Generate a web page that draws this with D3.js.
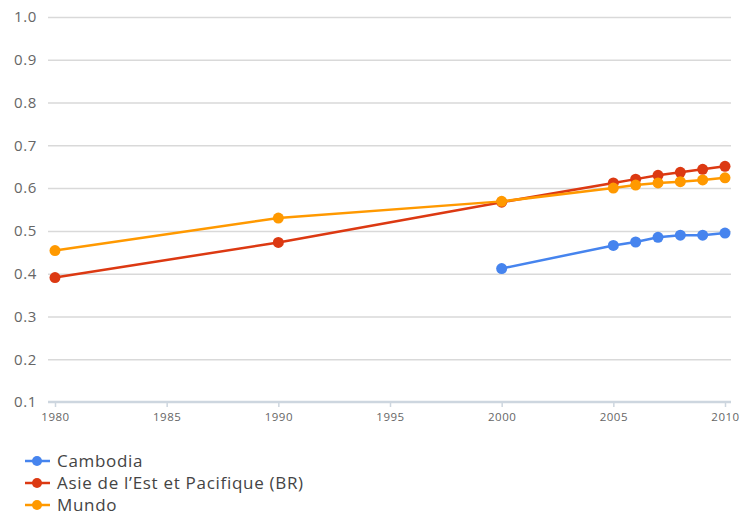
<!DOCTYPE html>
<html><head><meta charset="utf-8">
<script src="https://cdn.jsdelivr.net/npm/d3@7"></script>
<style>body{margin:0;background:#fff;}svg{display:block;font-family:"Open Sans",sans-serif;}</style>
</head><body><svg id="c" width="741" height="517"></svg>
<script>
const seriesNames = ["Cambodia", "Asie de l\u2019Est et Pacifique (BR)", "Mundo"];
const seriesColors = ["#4684ee", "#dc3912", "#ff9900"];
const cambodiaYears = [2000, 2005, 2006, 2007, 2008, 2009, 2010];
const cambodiaValues = [0.412, 0.466, 0.474, 0.485, 0.490, 0.490, 0.495];
const eastAsiaYears = [1980, 1990, 2000, 2005, 2006, 2007, 2008, 2009, 2010];
const eastAsiaValues = [0.391, 0.473, 0.567, 0.612, 0.621, 0.630, 0.637, 0.644, 0.651];
const worldYears = [1980, 1990, 2000, 2005, 2006, 2007, 2008, 2009, 2010];
const worldValues = [0.454, 0.530, 0.569, 0.600, 0.607, 0.612, 0.615, 0.619, 0.624];
const xTicks = [1980, 1985, 1990, 1995, 2000, 2005, 2010];
const yTicks = [0.1, 0.2, 0.3, 0.4, 0.5, 0.6, 0.7, 0.8, 0.9, 1.0];

const svg = d3.select("#c");
const x = d3.scaleLinear().domain([1980, 2010]).range([55, 725]);
const y = d3.scaleLinear().domain([0.1, 1.0]).range([402, 17]);

// grid
const gy = svg.append("g").attr("transform", "translate(48,0)")
  .call(d3.axisLeft(y).tickValues(yTicks).tickFormat(d3.format(".1f")).tickSize(-683).tickPadding(11));
gy.select(".domain").remove();
gy.selectAll(".tick line").attr("stroke", "#d9d9d9").attr("stroke-width", 1.5);
gy.selectAll(".tick text").attr("fill", "#666").attr("font-size", 15).attr("letter-spacing", 0.6)
  .attr("font-family", "Open Sans, sans-serif");
gy.selectAll(".tick").filter(d => d === 0.1).select("line").remove();

// x axis
const gx = svg.append("g").attr("transform", "translate(0,402)")
  .call(d3.axisBottom(x).tickValues(xTicks).tickFormat(d3.format("d")).tickSize(5).tickPadding(6));
gx.select(".domain").remove();
gx.insert("line", ":first-child").attr("x1", 48).attr("x2", 731).attr("y1", 0).attr("y2", 0)
  .attr("stroke", "#cdd6df").attr("stroke-width", 2.5);
gx.selectAll(".tick line").attr("stroke", "#cdd6df").attr("stroke-width", 1.5);
gx.selectAll(".tick text").attr("fill", "#666").attr("font-size", 11.5).attr("letter-spacing", 0.5)
  .attr("font-family", "Open Sans, sans-serif");

const data = [
  {name: seriesNames[0], color: seriesColors[0], pts: cambodiaYears.map((d, i) => [d, cambodiaValues[i]])},
  {name: seriesNames[1], color: seriesColors[1], pts: eastAsiaYears.map((d, i) => [d, eastAsiaValues[i]])},
  {name: seriesNames[2], color: seriesColors[2], pts: worldYears.map((d, i) => [d, worldValues[i]])}
];
const line = d3.line().x(d => x(d[0])).y(d => y(d[1]));
data.forEach(s => {
  const g = svg.append("g");
  g.append("path").attr("d", line(s.pts)).attr("fill", "none").attr("stroke", s.color).attr("stroke-width", 2.5);
  g.selectAll("circle").data(s.pts).join("circle")
    .attr("cx", d => x(d[0])).attr("cy", d => y(d[1])).attr("r", 5.5).attr("fill", s.color);
});

// legend
const lg = svg.append("g");
data.forEach((s, i) => {
  const yy = 461 + i * 22;
  lg.append("line").attr("x1", 25).attr("x2", 50).attr("y1", yy).attr("y2", yy).attr("stroke", s.color).attr("stroke-width", 2.5);
  lg.append("circle").attr("cx", 37).attr("cy", yy).attr("r", 5).attr("fill", s.color);
  lg.append("text").attr("x", 57).attr("y", yy).attr("dy", "0.35em").attr("fill", "#444")
    .attr("font-size", 17).attr("letter-spacing", 0.7).text(s.name);
});
</script></body></html>
